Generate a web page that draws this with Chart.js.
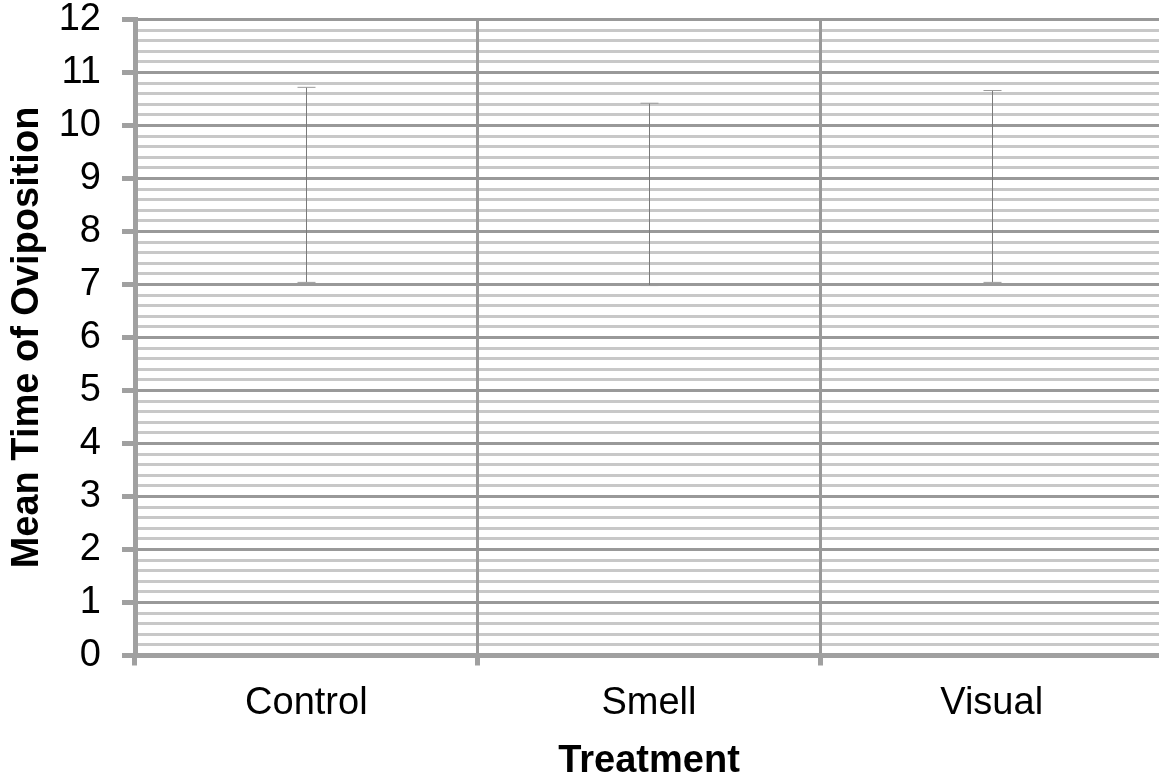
<!DOCTYPE html>
<html>
<head>
<meta charset="utf-8">
<script src="https://cdn.jsdelivr.net/npm/chart.js@4"></script>
<style>
  html, body { margin: 0; padding: 0; background: #fff; overflow: hidden; }
  #wrap { width: 1163px; height: 782px; }
</style>
</head>
<body>
<div id="wrap"><canvas id="myChart" width="1163" height="782"></canvas></div>
<script>
// Data
const categories = ['Control', 'Smell', 'Visual'];
const means = [8.88, 8.70, 8.85];
const errors = [1.84, 1.72, 1.81];
const yTicks = [0, 1, 2, 3, 4, 5, 6, 7, 8, 9, 10, 11, 12];

const FONT = "'Liberation Sans', Arial, sans-serif";
const MAJOR = '#999999';
const MINOR = '#c8c8c8';
const AXIS = '#a0a0a0';

function isMajor(v) {
  return yTicks.some(t => Math.abs(t - v) < 1e-6);
}

// draws the error bars using the chart's own scales
const errorBars = {
  id: 'errorBars',
  afterDatasetsDraw(chart) {
    const { ctx, scales: { x, y } } = chart;
    ctx.save();
    means.forEach((m, i) => {
      const px = Math.round(x.getPixelForValue(i)) + 0.5;
      const top = y.getPixelForValue(m + errors[i]);
      const bot = y.getPixelForValue(m - errors[i]);
      ctx.strokeStyle = '#7a7a7a';
      ctx.lineWidth = 1;
      ctx.beginPath();
      ctx.moveTo(px, top);
      ctx.lineTo(px, bot);
      ctx.stroke();
      ctx.strokeStyle = '#9a9a9a';
      ctx.beginPath();
      ctx.moveTo(px - 9, top);
      ctx.lineTo(px + 9, top);
      ctx.moveTo(px - 9, bot);
      ctx.lineTo(px + 9, bot);
      ctx.stroke();
    });
    ctx.restore();
  }
};

const ctx = document.getElementById('myChart').getContext('2d');
const myChart = new Chart(ctx, {
  type: 'bar',
  data: {
    labels: categories,
    datasets: [{
      label: 'Mean Time of Oviposition',
      data: means,
      backgroundColor: 'rgba(0,0,0,0)',
      borderWidth: 0
    }]
  },
  options: {
    responsive: false,
    devicePixelRatio: 1,
    animation: false,
    layout: { padding: { top: 19.5, left: 0, right: 0, bottom: 0 } },
    plugins: {
      legend: { display: false },
      tooltip: { enabled: false }
    },
    scales: {
      x: {
        afterFit: s => { s.height = 126.5; s.paddingLeft = 0; s.paddingRight = 0; },
        grid: {
          z: 0, // vertical lines sit over the horizontal minor lines
          offset: true,
          color: MAJOR,
          lineWidth: 3,
          tickLength: 10,
          tickColor: AXIS,
          tickWidth: 5
        },
        border: { color: AXIS, width: 5, z: 1 },
        ticks: {
          color: '#000',
          padding: 15,
          font: { family: FONT, size: 38 }
        },
        title: {
          display: true,
          text: 'Treatment',
          color: '#000',
          font: { family: FONT, size: 38, weight: 'bold', lineHeight: 1 },
          padding: { top: 0, bottom: 1 }
        }
      },
      y: {
        min: 0,
        max: 12,
        afterFit: s => { s.width = 135; s.paddingTop = 0; s.paddingBottom = 0; },
        grid: {
          color: c => isMajor(c.tick.value) ? MAJOR : MINOR,
          lineWidth: 3,
          tickLength: 13,
          tickColor: c => isMajor(c.tick.value) ? AXIS : 'rgba(0,0,0,0)',
          tickWidth: 5
        },
        border: { color: AXIS, width: 5, z: 1 },
        ticks: {
          stepSize: 0.2,
          autoSkip: false,
          color: '#000',
          padding: 21,
          font: { family: FONT, size: 38 },
          callback: v => isMajor(v) ? String(Math.round(v)) : ''
        },
        title: {
          display: true,
          text: 'Mean Time of Oviposition',
          color: '#000',
          font: { family: FONT, size: 38, weight: 'bold', lineHeight: 1 },
          padding: { top: 9, bottom: 0 }
        }
      }
    }
  },
  plugins: [errorBars]
});
</script>
</body>
</html>
